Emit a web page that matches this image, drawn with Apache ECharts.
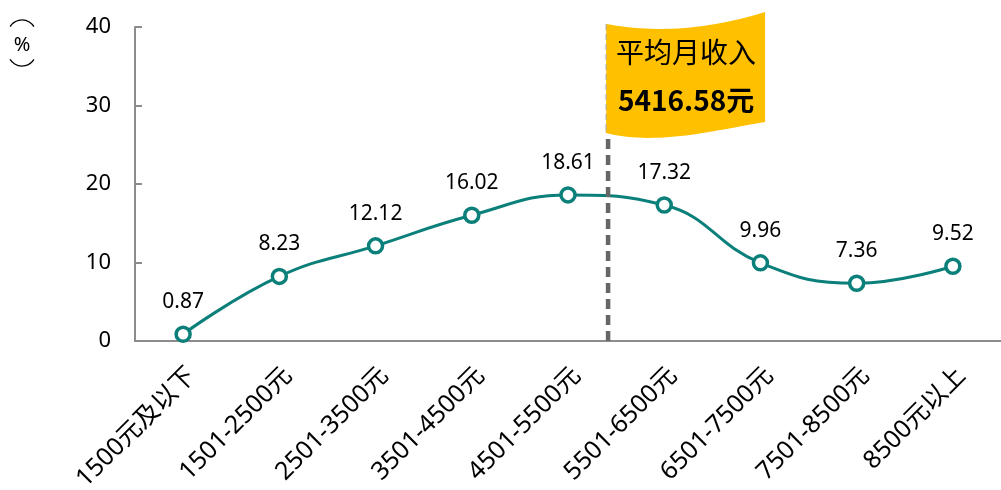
<!DOCTYPE html>
<html>
<head>
<meta charset="utf-8">
<script src="https://cdn.jsdelivr.net/npm/echarts@6/dist/echarts.min.js"></script>
<style>
  html, body { margin: 0; padding: 0; background: #fff; }
  #chart { width: 1001px; height: 490px; }
</style>
</head>
<body>
<div id="chart"></div>
<script>
// 月收入分组
const categories = ['1500元及以下', '1501-2500元', '2501-3500元', '3501-4500元', '4501-5500元',
  '5501-6500元', '6501-7500元', '7501-8500元', '8500元以上']
// 各组占比（%）
const shares = [0.87, 8.23, 12.12, 16.02, 18.61, 17.32, 9.96, 7.36, 9.52]
const yTicks = [0, 10, 20, 30, 40]
const avgIncome = 5416.58

// 分组每 1000 元一档，第 i 档左边界为 500 + 1000 * i
const avgPos = (avgIncome - 500) / 1000 - 0.5

const teal = '#0b7f79'
const fontCN = '"Noto Sans CJK SC", "Noto Sans", sans-serif'
const fontNum = '"Noto Sans", "Noto Sans CJK SC", sans-serif'

const chart = echarts.init(document.getElementById('chart'))
chart.setOption({
  animation: false,
  backgroundColor: '#fff',
  grid: { left: 135, right: 0, top: 27, bottom: 149, containLabel: false, outerBoundsMode: 'none' },
  xAxis: [{
    type: 'category',
    data: categories,
    boundaryGap: true,
    axisLine: { lineStyle: { color: '#8c8c8c', width: 2 } },
    axisTick: { inside: true, length: 7, lineStyle: { color: '#8c8c8c', width: 2 } },
    axisLabel: {
      rotate: 45,
      margin: 22,
      interval: 0,
      verticalAlign: 'top',
      color: '#000',
      fontSize: 25,
      fontFamily: fontNum
    }
  }, {
    type: 'value',
    min: -0.5,
    max: categories.length - 0.5,
    show: false
  }],
  yAxis: {
    type: 'value',
    min: yTicks[0],
    max: yTicks[yTicks.length - 1],
    interval: 10,
    axisLine: { show: true, onZero: false, lineStyle: { color: '#8c8c8c', width: 2 } },
    axisTick: { show: true, inside: true, length: 7, lineStyle: { color: '#8c8c8c', width: 2 } },
    splitLine: { show: false },
    axisLabel: { margin: 24, color: '#000', fontSize: 22, fontFamily: fontNum }
  },
  series: [{
    type: 'line',
    data: shares,
    smooth: 0.45,
    symbol: 'circle',
    symbolSize: 14,
    lineStyle: { color: teal, width: 3 },
    itemStyle: { color: '#fff', borderColor: teal, borderWidth: 3.5 },
    label: {
      show: true,
      position: 'top',
      distance: 13,
      color: '#000',
      fontSize: 21,
      fontFamily: fontNum
    },
    z: 3
  }, {
    // 平均月收入所在位置的虚线
    type: 'line',
    xAxisIndex: 1,
    data: [[avgPos, 0], [avgPos, 27]],
    symbol: 'none',
    lineStyle: { color: '#666', width: 4.5, type: [10, 6] },
    silent: true,
    z: 4
  }]
})

// 三次贝塞尔取点
function bez (p0, p1, p2, p3, n) {
  const pts = []
  for (let i = 0; i <= n; i++) {
    const t = i / n
    const u = 1 - t
    pts.push([
      u * u * u * p0[0] + 3 * u * u * t * p1[0] + 3 * u * t * t * p2[0] + t * t * t * p3[0],
      u * u * u * p0[1] + 3 * u * u * t * p1[1] + 3 * u * t * t * p2[1] + t * t * t * p3[1]
    ])
  }
  return pts
}

// 旗帜
const [lx] = chart.convertToPixel({ xAxisIndex: 1, yAxisIndex: 0 }, [avgPos, 0])
const fx = lx - 2
const flagPts = bez([fx, 24], [fx + 50, 33], [fx + 100, 30], [fx + 159, 12], 30)
  .concat(bez([fx + 159, 122], [fx + 110, 130], [fx + 50, 146], [fx, 133], 30))

chart.setOption({
  graphic: [{
    type: 'polygon',
    shape: { points: flagPts },
    style: { fill: '#ffc000' },
    z: 10
  }, {
    type: 'line',
    shape: { x1: fx, y1: 24, x2: fx, y2: 133 },
    style: { stroke: '#a6a6a6', lineWidth: 1, lineDash: [6, 4] },
    z: 11
  }, {
    type: 'text',
    x: fx + 80,
    y: 52,
    style: {
      text: '平均月收入',
      font: '28px ' + fontCN,
      fill: '#000',
      align: 'center',
      verticalAlign: 'middle'
    },
    z: 11
  }, {
    type: 'text',
    x: fx + 80,
    y: 100,
    style: {
      text: avgIncome.toFixed(2) + '元',
      font: 'bold 28px ' + fontCN,
      fill: '#000',
      align: 'center',
      verticalAlign: 'middle'
    },
    z: 11
  }, {
    // 竖排的 "（%）"
    type: 'arc',
    shape: { cx: 22, cy: 34, r: 14, startAngle: Math.PI + 0.55, endAngle: 2 * Math.PI - 0.55 },
    style: { stroke: '#000', lineWidth: 1.3, fill: null }
  }, {
    type: 'text',
    x: 22,
    y: 45,
    style: { text: '%', font: '20px ' + fontNum, fill: '#000', align: 'center', verticalAlign: 'middle' }
  }, {
    type: 'arc',
    shape: { cx: 22, cy: 52, r: 14, startAngle: 0.55, endAngle: Math.PI - 0.55 },
    style: { stroke: '#000', lineWidth: 1.3, fill: null }
  }]
})
</script>
</body>
</html>
